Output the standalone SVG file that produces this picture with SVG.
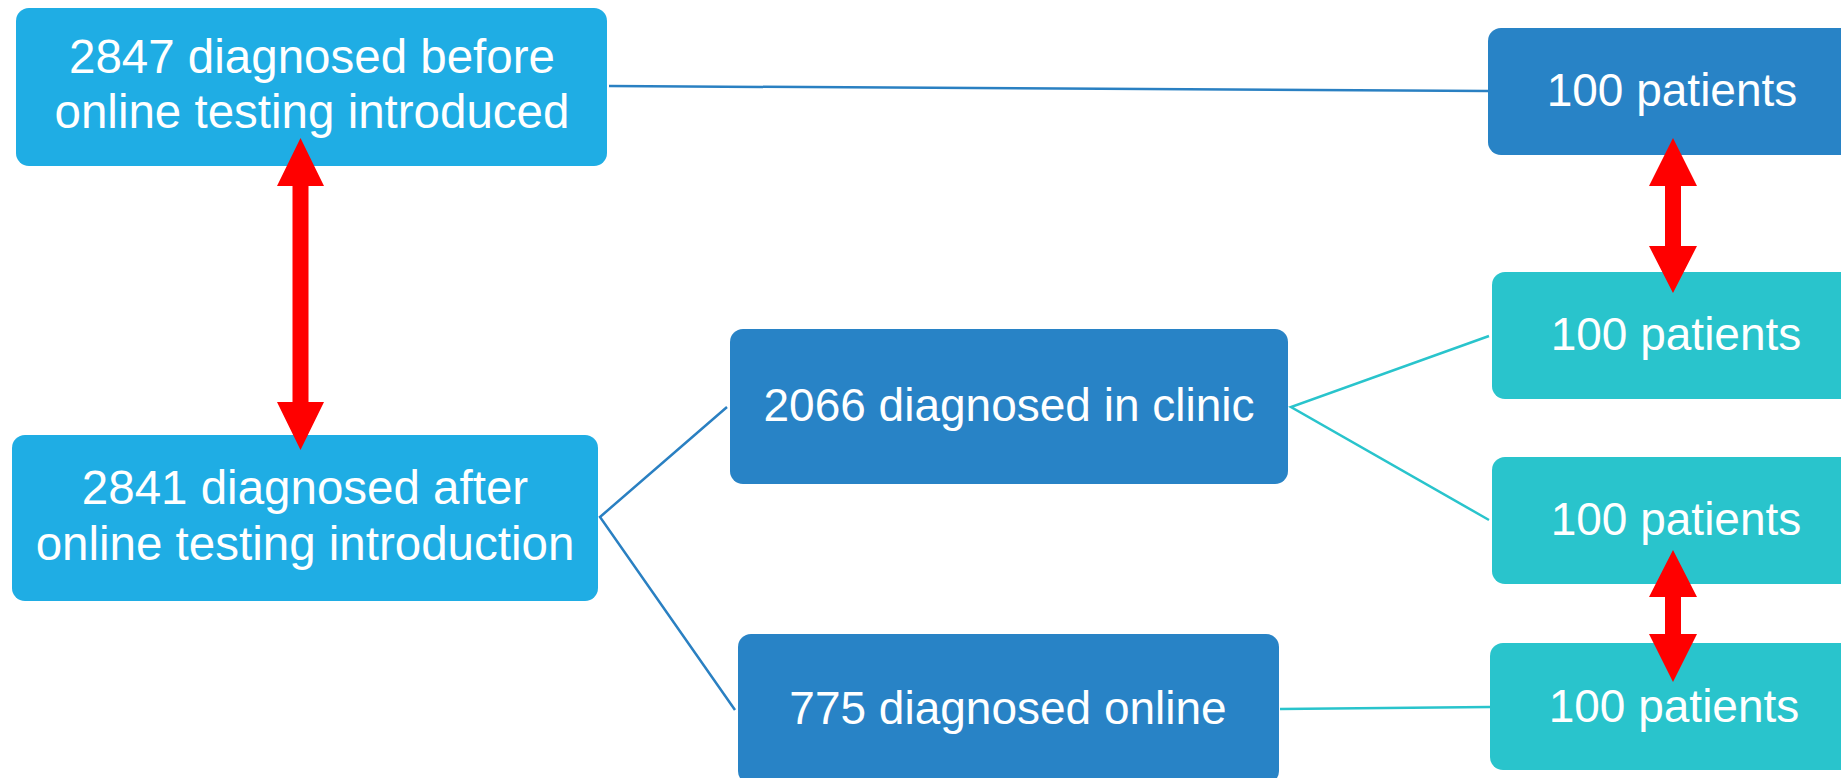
<svg xmlns="http://www.w3.org/2000/svg" width="1841" height="778" viewBox="0 0 1841 778">
<style>
.lb{fill:#1FADE4}
.db{fill:#2883C6}
.tl{fill:#29C4CC}
.t{font-family:"Liberation Sans",Arial,sans-serif;font-size:46px;fill:#FFFFFF;text-anchor:middle}
.big{font-size:47.5px}
.cb{stroke:#2A80C2;stroke-width:2.5;fill:none}
.ct{stroke:#29C4CC;stroke-width:2.5;fill:none}
.ar{fill:#FF0000}
</style>
<rect width="1841" height="778" fill="#FFFFFF"/>
<g id="connectors">
<line class="cb" x1="609" y1="86" x2="1488" y2="91"/>
<polyline class="cb" points="727,407 600,517 735,710"/>
<polyline class="ct" points="1489,336 1291,407 1489,520"/>
<line class="ct" x1="1280" y1="709" x2="1490" y2="707"/>
</g>
<g id="box1">
<rect class="lb" x="16" y="8" width="591" height="158" rx="13"/>
<text class="t big" x="312" y="73">2847 diagnosed before</text>
<text class="t big" x="312" y="128">online testing introduced</text>
</g>
<g id="box2">
<rect class="lb" x="12" y="435" width="586" height="166" rx="13"/>
<text class="t big" x="305" y="504">2841 diagnosed after</text>
<text class="t big" x="305" y="560">online testing introduction</text>
</g>
<g id="box3">
<rect class="db" x="730" y="329" width="558" height="155" rx="13"/>
<text class="t" x="1009" y="421">2066 diagnosed in clinic</text>
</g>
<g id="box4">
<rect class="db" x="738" y="634" width="541" height="150" rx="13"/>
<text class="t" x="1008" y="724">775 diagnosed online</text>
</g>
<g id="r1">
<rect class="db" x="1488" y="28" width="380" height="127" rx="13"/>
<text class="t" x="1672" y="106">100 patients</text>
</g>
<g id="r2">
<rect class="tl" x="1492" y="272" width="380" height="127" rx="13"/>
<text class="t" x="1676" y="350">100 patients</text>
</g>
<g id="r3">
<rect class="tl" x="1492" y="457" width="380" height="127" rx="13"/>
<text class="t" x="1676" y="535">100 patients</text>
</g>
<g id="r4">
<rect class="tl" x="1490" y="643" width="380" height="127" rx="13"/>
<text class="t" x="1674" y="722">100 patients</text>
</g>
<g id="arrows">
<polygon class="ar" points="300.5,138 324,186 308.5,186 308.5,402 324,402 300.5,450 277,402 292.5,402 292.5,186 277,186"/>
<polygon class="ar" points="1673,138 1697,186 1681,186 1681,246 1697,246 1673,293 1649,246 1665,246 1665,186 1649,186"/>
<polygon class="ar" points="1673,550 1697,597 1681,597 1681,634 1697,634 1673,682 1649,634 1665,634 1665,597 1649,597"/>
</g>
</svg>
